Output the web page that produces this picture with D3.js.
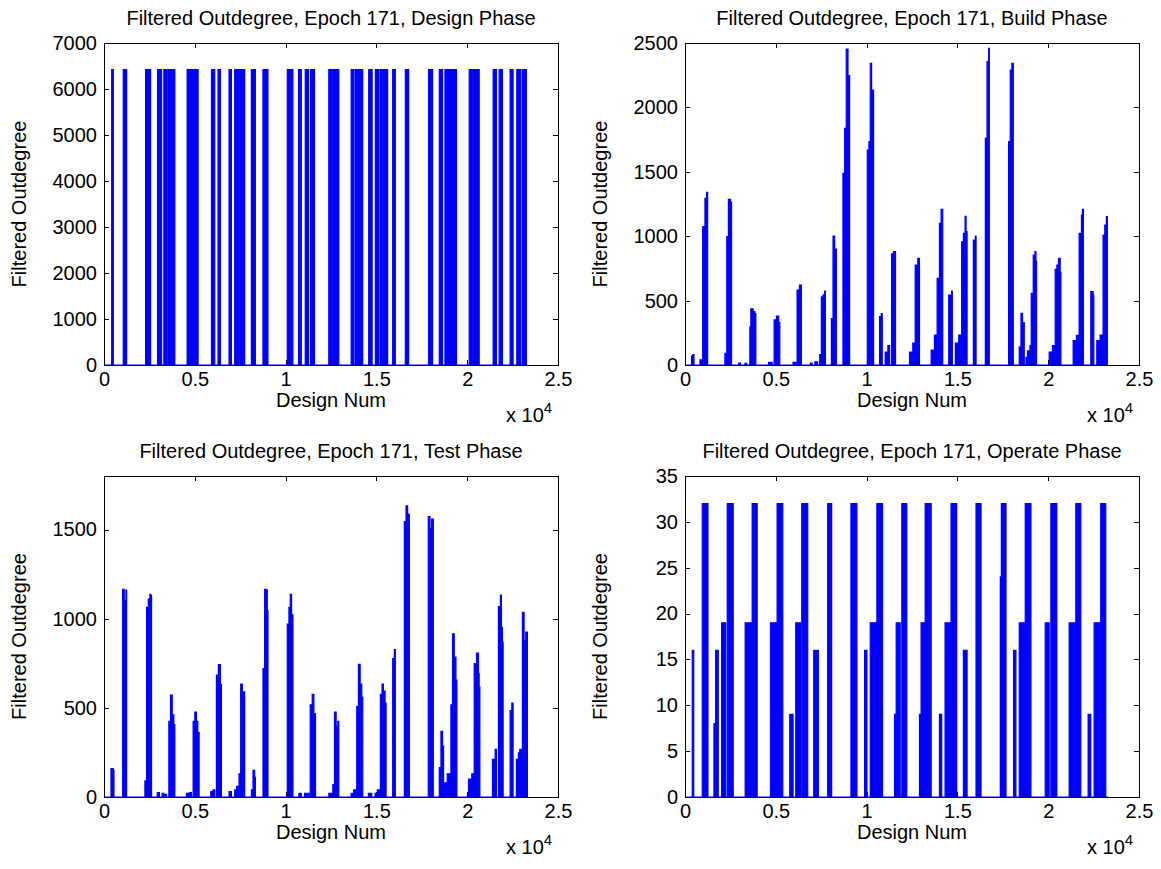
<!DOCTYPE html>
<html><head><meta charset="utf-8">
<script src="https://cdn.jsdelivr.net/npm/d3@7"></script>
<style>
body{margin:0;background:#fff}
svg{display:block}
text{font-family:"Liberation Sans",Arial,Helvetica,sans-serif;fill:#000}
</style>
</head><body>
<svg id="chart" width="1161" height="869"></svg>
<script>
// ---------------- DATA ----------------
const panelTitles = [
  "Filtered Outdegree, Epoch 171, Design Phase",
  "Filtered Outdegree, Epoch 171, Build Phase",
  "Filtered Outdegree, Epoch 171, Test Phase",
  "Filtered Outdegree, Epoch 171, Operate Phase"
];
const xLabel = "Design Num";
const yLabel = "Filtered Outdegree";
const xTickValues = [0, 5000, 10000, 15000, 20000, 25000];
const xTickLabels = ["0", "0.5", "1", "1.5", "2", "2.5"];
const xDomain = [0, 25000];
const dataEnd = 23300;

const designTicks = [0, 1000, 2000, 3000, 4000, 5000, 6000, 7000];
const buildTicks = [0, 500, 1000, 1500, 2000, 2500];
const testTicks = [0, 500, 1000, 1500];
const operateTicks = [0, 5, 10, 15, 20, 25, 30, 35];

// Design phase: blocks [start, end] at a constant level
const designLevel = 6420;
const designBlocks = [
  [423,511],[1060,1247],[2291,2400],[2450,2566],[2951,3170],[3297,3445],[3516,3665],[3720,3901],
  [4577,4907],[4962,5181],[5918,6099],[6280,6412],[6885,7016],[7198,7390],[7445,7747],[8115,8335],
  [8753,9027],[10093,10401],[10714,10863],[11082,11264],[11374,11593],[12379,12599],[12654,12929],
  [13610,13764],[13846,13984],[14039,14247],[14577,14764],[14945,15110],[15192,15357],[15412,15621],
  [15896,16044],[16593,16775],[17874,18094],[18462,18643],[18775,19066],[19104,19412],[20110,20220],
  [20275,20659],[21429,21610],[21758,21940],[22363,22527],[22731,22951],[23039,23259]
];

// Build phase: spikes as step outlines [design num, value], each ends back at 0
const buildSpikes = [
  [[360,70],[430,80],[494,0]],
  [[824,40],[973,1074],[1099,1294],[1192,1341],[1247,0]],
  [[2198,90],[2300,996],[2390,1286],[2509,1265],[2564,0]],
  [[2950,15],[3050,0]],
  [[3300,12],[3400,0]],
  [[3571,297],[3626,435],[3755,415],[3850,400],[3901,0]],
  [[4600,20],[4800,0]],
  [[4908,350],[5037,380],[5160,330],[5220,0]],
  [[5950,20],[6100,0]],
  [[6172,582],[6300,621],[6410,0]],
  [[6900,15],[7000,0]],
  [[7150,25],[7300,0]],
  [[7418,80],[7510,530],[7601,545],[7692,574],[7730,0]],
  [[8060,360],[8151,1001],[8242,900],[8335,0]],
  [[8698,1488],[8791,1838],[8880,2453],[8975,2246],[9066,0]],
  [[10038,1669],[10129,1734],[10203,2342],[10275,2135],[10385,0]],
  [[10714,375],[10806,400],[10861,0]],
  [[11027,100],[11172,150],[11264,0]],
  [[11374,862],[11480,881],[11593,0]],
  [[12363,100],[12545,170],[12676,776],[12819,828],[12912,0]],
  [[13555,116],[13736,233],[13884,673],[14011,1100],[14104,1209],[14192,0]],
  [[14522,543],[14687,574],[14720,0]],
  [[14890,170],[15073,233],[15236,957],[15330,1022],[15423,1155],[15478,1035],[15533,0]],
  [[15879,970],[15989,1001],[16027,0]],
  [[16538,1760],[16632,2355],[16720,2459],[16758,0]],
  [[17819,1734],[17912,2290],[18000,2342],[18077,0]],
  [[18407,140],[18500,401],[18588,330],[18681,0]],
  [[18775,60],[18863,110],[18995,150],[19066,557],[19176,854],[19270,881],[19325,805],[19358,0]],
  [[20055,100],[20237,150],[20385,743],[20478,776],[20566,828],[20659,720],[20698,0]],
  [[21374,190],[21555,230],[21703,1022],[21830,1164],[21885,1209],[21940,0]],
  [[22346,569],[22473,543],[22511,0]],
  [[22676,190],[22857,233],[23022,1009],[23116,1087],[23204,1152],[23259,0]]
];

// Test phase
const testSpikes = [
  [[385,159],[513,150],[549,0]],
  [[1026,1165],[1117,1100],[1209,1160],[1245,0]],
  [[2253,90],[2344,1063],[2436,1110],[2527,1137],[2582,1130],[2619,0]],
  [[2930,25],[3050,0]],
  [[3200,20],[3300,15],[3445,0]],
  [[3571,424],[3663,572],[3755,461],[3846,406],[3901,0]],
  [[4542,20],[4700,25],[4817,0]],
  [[4908,424],[5000,476],[5091,424],[5165,363],[5238,0]],
  [[5879,30],[6000,40],[6099,0]],
  [[6191,683],[6300,743],[6410,632],[6465,0]],
  [[6886,30],[7016,0]],
  [[7198,40],[7300,60],[7436,130],[7527,633],[7619,563],[7692,590],[7747,0]],
  [[8115,40],[8206,150],[8297,110],[8335,0]],
  [[8755,720],[8846,1165],[8938,1160],[8993,1044],[9029,0]],
  [[10093,970],[10184,1063],[10257,1137],[10330,1022],[10404,0]],
  [[10734,20],[10862,0]],
  [[11044,20],[11282,0]],
  [[11356,517],[11466,576],[11557,467],[11648,0]],
  [[12381,20],[12600,70],[12692,476],[12784,396],[12875,424],[12930,0]],
  [[13610,20],[13750,40],[13918,507],[14011,744],[14104,633],[14194,559],[14249,0]],
  [[14560,20],[14743,0]],
  [[14928,20],[15050,40],[15220,576],[15313,633],[15385,594],[15477,526],[15533,0]],
  [[15896,776],[15989,826],[16044,0]],
  [[16538,1544],[16632,1633],[16720,1585],[16813,0]],
  [[17857,1572],[17950,1507],[18039,1559],[18132,0]],
  [[18461,165],[18555,368],[18643,285],[18700,80],[18900,130],[19104,517],[19192,915],[19286,785],[19379,656],[19434,0]],
  [[20072,100],[20250,130],[20385,748],[20512,807],[20622,693],[20659,618],[20698,0]],
  [[21390,211],[21538,267],[21610,0]],
  [[21720,1067],[21830,1132],[21885,952],[21940,868],[21978,0]],
  [[22363,485],[22456,526],[22527,0]],
  [[22710,211],[22820,248],[22895,267],[23039,1035],[23132,878],[23224,924],[23314,0]]
];

// Operate phase: blocks [start, end, level]
const operateBlocks = [
  [400,480,16],[951,1264,32],[1594,1690,8],[1690,1830,16],[2016,2236,19],[2326,2655,32],
  [3313,3643,19],[3698,3973,32],[4707,5072,19],[5072,5385,32],[5769,5952,9],[6099,6356,19],
  [6429,6758,32],[7088,7346,16],[7857,8077,32],[9138,9468,32],[9890,10018,16],[10203,10567,19],
  [10567,10879,32],[11538,11630,9],[11630,11849,19],[11940,12214,32],[12912,13000,9],[13000,13225,19],
  [13225,13555,32],[14011,14138,9],[14320,14595,19],[14650,14961,32],[15331,15533,16],[16025,16300,32],
  [17363,17420,24],[17420,17676,32],[18093,18222,16],[18407,18736,19],[18736,19049,32],[19835,20055,19],
  [20147,20476,32],[21154,21466,19],[21521,21796,32],[22198,22345,9],[22528,22841,19],[22894,23169,32]
];

// ---------------- BUILD SERIES ----------------
function fromBlocks(blocks, level) {
  const pts = [[0, 0]];
  blocks.forEach(b => { pts.push([b[0], level !== undefined ? level : b[2]]); pts.push([b[1], 0]); });
  pts.push([dataEnd, 0]);
  return pts;
}
function fromSpikes(spikes) {
  const pts = [[0, 0]];
  spikes.forEach(s => s.forEach(p => pts.push(p)));
  pts.push([dataEnd, 0]);
  return pts;
}

const panels = [
  {title: panelTitles[0], box: {l:104, r:558, t:43, b:365}, yDomain:[0,7000], yTicks:designTicks, series: fromBlocks(designBlocks, designLevel)},
  {title: panelTitles[1], box: {l:685, r:1139, t:43, b:365}, yDomain:[0,2500], yTicks:buildTicks, series: fromSpikes(buildSpikes)},
  {title: panelTitles[2], box: {l:104, r:558, t:476, b:797}, yDomain:[0,1800], yTicks:testTicks, series: fromSpikes(testSpikes)},
  {title: panelTitles[3], box: {l:685, r:1139, t:476, b:797}, yDomain:[0,35], yTicks:operateTicks, series: fromBlocks(operateBlocks)}
];

// ---------------- DRAW ----------------
const svg = d3.select("#chart");
const FS = 20;
const BLUE = "#0000ff";
const TICK = 5;

panels.forEach((p, i) => {
  const {l, r, t, b} = p.box;
  const x = d3.scaleLinear().domain(xDomain).range([l, r]);
  const y = d3.scaleLinear().domain(p.yDomain).range([b, t]);
  const g = svg.append("g");

  const cid = "clip" + i;
  svg.append("clipPath").attr("id", cid).append("rect")
    .attr("x", l).attr("y", t - 1).attr("width", r - l).attr("height", b - t + 2);

  g.append("rect").attr("x", l).attr("y", t).attr("width", r - l).attr("height", b - t)
    .attr("fill", "none").attr("stroke", "#000").attr("stroke-width", 1)
    .attr("shape-rendering", "crispEdges");

  const xb = d3.axisBottom(x).tickValues(xTickValues).tickSize(-TICK).tickPadding(7)
    .tickFormat((d, k) => xTickLabels[k]);
  const gx = g.append("g").attr("transform", `translate(0,${b})`).call(xb);
  const xt = d3.axisTop(x).tickValues(xTickValues).tickSize(-TICK).tickFormat("");
  const gxt = g.append("g").attr("transform", `translate(0,${t})`).call(xt);

  const yl = d3.axisLeft(y).tickValues(p.yTicks).tickSize(-TICK).tickPadding(7)
    .tickFormat(d3.format("d"));
  const gy = g.append("g").attr("transform", `translate(${l},0)`).call(yl);
  const yr = d3.axisRight(y).tickValues(p.yTicks).tickSize(-TICK).tickFormat("");
  const gyr = g.append("g").attr("transform", `translate(${r},0)`).call(yr);

  [gx, gxt, gy, gyr].forEach(a => {
    a.select(".domain").remove();
    a.selectAll("line").attr("stroke", "#000").attr("shape-rendering", "crispEdges");
    a.selectAll("text").attr("font-size", FS).attr("font-family", '"Liberation Sans",Arial,sans-serif').attr("fill", "#000");
  });

  const line = d3.line().x(d => x(d[0])).y(d => y(d[1])).curve(d3.curveStepAfter);
  svg.append("path").datum(p.series)
    .attr("clip-path", `url(#${cid})`)
    .attr("d", line)
    .attr("fill", BLUE).attr("stroke", BLUE).attr("stroke-width", 1.2);

  svg.append("text").attr("x", (l + r) / 2).attr("y", t - 18).attr("text-anchor", "middle")
    .attr("font-size", FS).text(p.title);

  svg.append("text").attr("x", (l + r) / 2).attr("y", b + 42).attr("text-anchor", "middle")
    .attr("font-size", FS).text(xLabel);

  const ex = svg.append("text").attr("x", r - 52).attr("y", b + 57).attr("font-size", FS);
  ex.append("tspan").text("x 10");
  ex.append("tspan").attr("dy", -9).attr("font-size", FS * 0.75).text("4");

  svg.append("text").attr("transform", `translate(${l - 78},${(t + b) / 2}) rotate(-90)`)
    .attr("text-anchor", "middle").attr("font-size", FS).text(yLabel);
});
</script>
</body></html>
